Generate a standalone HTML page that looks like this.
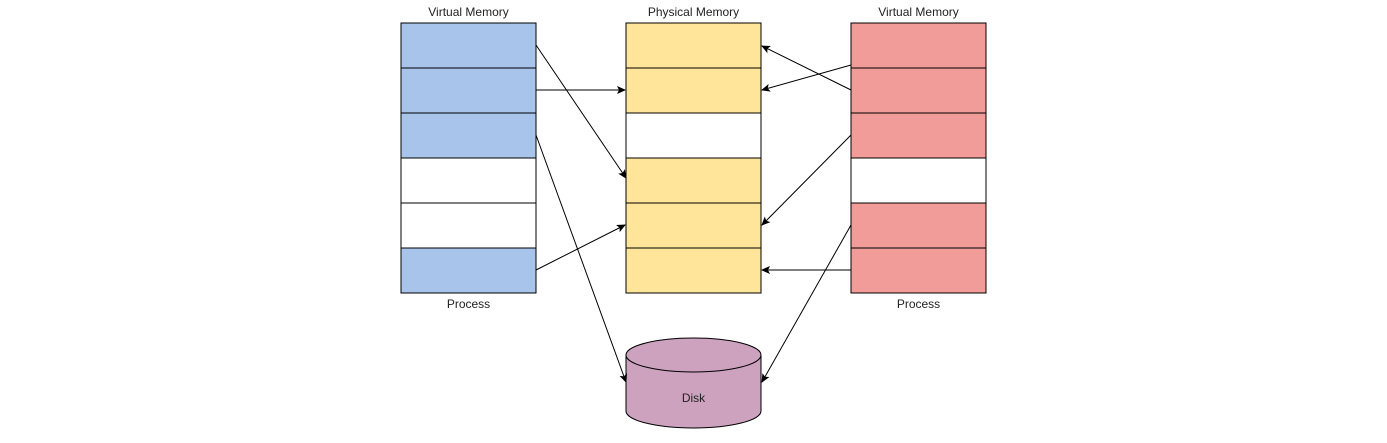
<!DOCTYPE html>
<html><head><meta charset="utf-8"><style>body{margin:0;background:#fff}</style></head><body>
<svg width="1387" height="438" xmlns="http://www.w3.org/2000/svg" font-family="Liberation Sans, sans-serif" font-size="12">
<defs><marker id="a" markerWidth="10" markerHeight="10" refX="8" refY="4" orient="auto" markerUnits="userSpaceOnUse"><path d="M0,0 L9,4 L0,8 L2,4 z" fill="#000"/></marker></defs>
<g stroke="#000" stroke-width="1">
<rect x="401" y="23" width="135" height="45" fill="#a9c4eb"/>
<rect x="401" y="68" width="135" height="45" fill="#a9c4eb"/>
<rect x="401" y="113" width="135" height="45" fill="#a9c4eb"/>
<rect x="401" y="158" width="135" height="45" fill="#fff"/>
<rect x="401" y="203" width="135" height="45" fill="#fff"/>
<rect x="401" y="248" width="135" height="45" fill="#a9c4eb"/>
<rect x="626" y="23" width="135" height="45" fill="#ffe599"/>
<rect x="626" y="68" width="135" height="45" fill="#ffe599"/>
<rect x="626" y="113" width="135" height="45" fill="#fff"/>
<rect x="626" y="158" width="135" height="45" fill="#ffe599"/>
<rect x="626" y="203" width="135" height="45" fill="#ffe599"/>
<rect x="626" y="248" width="135" height="45" fill="#ffe599"/>
<rect x="851" y="23" width="135" height="45" fill="#f19c99"/>
<rect x="851" y="68" width="135" height="45" fill="#f19c99"/>
<rect x="851" y="113" width="135" height="45" fill="#f19c99"/>
<rect x="851" y="158" width="135" height="45" fill="#fff"/>
<rect x="851" y="203" width="135" height="45" fill="#f19c99"/>
<rect x="851" y="248" width="135" height="45" fill="#f19c99"/>
<path d="M626,355 L626,411 A67.5,17 0 0 0 761,411 L761,355" fill="#cda2be"/>
<ellipse cx="693.5" cy="355" rx="67.5" ry="17" fill="#cda2be"/>
</g>
<g stroke="#000" stroke-width="1" fill="none" marker-end="url(#a)">
<line x1="536" y1="45" x2="626" y2="178"/>
<line x1="536" y1="90" x2="625" y2="90"/>
<line x1="536" y1="135" x2="626" y2="382"/>
<line x1="536" y1="270" x2="625" y2="225"/>
<line x1="851" y1="90" x2="762" y2="46"/>
<line x1="851" y1="65" x2="762" y2="90"/>
<line x1="851" y1="135" x2="762" y2="225"/>
<line x1="851" y1="225" x2="762" y2="382"/>
<line x1="851" y1="270" x2="762" y2="270"/>
</g>
<g fill="#222" text-anchor="middle">
<text x="468.5" y="16">Virtual Memory</text>
<text x="693.5" y="16">Physical Memory</text>
<text x="918.5" y="16">Virtual Memory</text>
<text x="468.5" y="308">Process</text>
<text x="918.5" y="308">Process</text>
<text x="693.5" y="402">Disk</text>
</g>
</svg>
</body></html>
